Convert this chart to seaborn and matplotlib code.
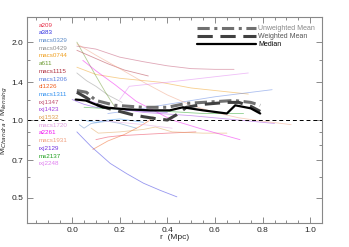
import numpy as np
import pandas as pd
import matplotlib
matplotlib.use("Agg")
from matplotlib import pyplot as plt
from matplotlib.lines import Line2D
from matplotlib.ticker import FixedLocator, NullFormatter
import seaborn as sns

# cluster names, label colours and profiles
clusters = ["a209", "a383", "macs0329", "macs0429", "macs0744", "a611", "macs1115",
            "macs1206", "cl1226", "macs1311", "rxj1347", "rxj1423", "rxj1532",
            "macs1720", "a2261", "macs1931", "rxj2129", "ms2137", "rxj2248"]
colors = ["#e8304a", "#3030e0", "#5a8ac8", "#909090", "#f0a020", "#6a9a30", "#b03040",
          "#5a80e0", "#f06020", "#3090f0", "#c05070", "#a040e0", "#e0a050",
          "#e0a0e0", "#f010f0", "#f0a080", "#7030e0", "#20a020", "#e080f0"]

profiles = {
    "a209": ([0.10, 0.15, 0.20, 0.30, 0.40, 0.52], [0.84, 0.86, 0.87, 0.88, 0.89, 0.90]),
    "a383": ([0.02, 0.08, 0.16, 0.23, 0.30, 0.37, 0.44], [0.90, 0.79, 0.68, 0.62, 0.57, 0.535, 0.505]),
    "macs0329": ([0.03, 0.05, 0.08, 0.15, 0.20, 0.27], [0.96, 0.93, 0.97, 0.99, 0.97, 0.93]),
    "macs0429": ([0.02, 0.06, 0.10, 0.15, 0.21], [1.52, 1.42, 1.35, 1.25, 1.17]),
    "macs0744": ([0.02, 0.10, 0.20, 0.37, 0.50, 0.74], [1.60, 1.50, 1.45, 1.40, 1.33, 1.26]),
    "a611": ([0.02, 0.06, 0.10, 0.14, 0.18], [2.00, 1.72, 1.48, 1.28, 1.12]),
    "macs1115": ([0.02, 0.08, 0.15, 0.22, 0.32], [1.86, 1.76, 1.65, 1.56, 1.48]),
    "macs1206": ([0.15, 0.25, 0.40, 0.60, 0.84], [1.06, 1.09, 1.15, 1.23, 1.31]),
    "cl1226": ([0.087, 0.15, 0.22, 0.28, 0.32, 0.34], [0.77, 0.83, 0.88, 0.94, 0.99, 1.03]),
    "macs1311": ([0.04, 0.10, 0.15, 0.20, 0.30], [1.00, 0.98, 1.00, 1.01, 0.98]),
    "rxj1347": ([0.02, 0.10, 0.20, 0.30, 0.40, 0.50, 0.60, 0.68], [1.93, 1.88, 1.75, 1.68, 1.62, 1.58, 1.57, 1.57]),
    "rxj1423": ([0.02, 0.08, 0.15, 0.30, 0.50, 0.70, 0.85], [1.28, 1.18, 1.12, 1.07, 1.04, 1.00, 0.97]),
    "rxj1532": ([0.08, 0.11, 0.20, 0.30, 0.35, 0.42, 0.55, 0.65], [0.93, 0.89, 0.90, 0.92, 0.94, 0.90, 0.89, 0.89]),
    "macs1720": ([0.10, 0.20, 0.30, 0.42], [1.00, 0.98, 0.96, 0.93]),
    "a2261": ([0.045, 0.10, 0.18, 0.27, 0.42, 0.55, 0.705], [1.70, 1.55, 1.37, 1.18, 1.00, 0.92, 0.84]),
    "macs1931": ([0.02, 0.10, 0.20, 0.30, 0.40, 0.50, 0.60, 0.70, 0.80, 0.92], [1.97, 1.78, 1.58, 1.40, 1.25, 1.14, 1.07, 1.02, 0.99, 0.96]),
    "rxj2129": ([0.00, 0.05, 0.10, 0.20, 0.30, 0.40], [1.20, 1.15, 1.12, 1.10, 1.08, 1.07]),
    "ms2137": ([0.05, 0.20, 0.40, 0.55, 0.72], [1.12, 1.10, 1.08, 1.06, 1.06]),
    "rxj2248": ([0.20, 0.24, 0.40, 0.60, 0.74], [1.20, 1.35, 1.40, 1.47, 1.52]),
}

median_r = [0.015, 0.057, 0.128, 0.23, 0.33, 0.41, 0.465, 0.55, 0.65, 0.685, 0.75, 0.79]
median_m = [1.20, 1.19, 1.12, 1.10, 1.09, 1.09, 1.12, 1.09, 1.06, 1.14, 1.11, 1.06]
unw_r = [0.02, 0.06, 0.10, 0.18, 0.30, 0.40, 0.48, 0.55, 0.68, 0.75, 0.79]
unw_m = [1.30, 1.28, 1.19, 1.14, 1.12, 1.12, 1.16, 1.17, 1.19, 1.17, 1.14]
wtd_r = [0.02, 0.06, 0.10, 0.15, 0.20, 0.25, 0.30, 0.36, 0.40, 0.44, 0.48, 0.55, 0.65, 0.70, 0.75, 0.79]
wtd_m = [1.28, 1.22, 1.15, 1.11, 1.08, 1.05, 1.03, 1.01, 1.00, 1.05, 1.12, 1.15, 1.17, 1.17, 1.13, 1.08]

rows = []
for name in clusters:
    rr, mm = profiles[name]
    for r, m in zip(rr, mm):
        rows.append({"cluster": name, "r": r, "ratio": m})
df = pd.DataFrame(rows)

sns.set_style("ticks")
plt.rcParams["font.family"] = ["Liberation Sans", "DejaVu Sans"]

fig = plt.figure(figsize=(3.49, 2.47), dpi=100)
ax = fig.add_axes([0.077, 0.097, 0.846, 0.834])

sns.lineplot(data=df, x="r", y="ratio", hue="cluster", palette=dict(zip(clusters, colors)),
             units="cluster", estimator=None, sort=False, lw=0.6, alpha=0.5,
             legend=False, ax=ax)

ax.axhline(1.0, color="black", lw=0.7, dashes=(4, 3))

sns.lineplot(x=unw_r, y=unw_m, ax=ax, color="#707070", lw=2.2)
ax.lines[-1].set_dashes((4, 1.5, 1, 1.5))
sns.lineplot(x=wtd_r, y=wtd_m, ax=ax, color="#404040", lw=2.2)
ax.lines[-1].set_dashes((5, 2.5))
sns.lineplot(x=median_r, y=median_m, ax=ax, color="black", lw=1.6)

ax.set_yscale("log")
ax.set_xlim(-0.19, 1.05)
ax.set_ylim(0.4, 2.5)
ax.yaxis.set_major_locator(FixedLocator([0.5, 0.7, 1.0, 1.4, 2.0]))
ax.yaxis.set_minor_locator(FixedLocator([0.6, 0.8, 0.9, 1.2, 1.7]))
ax.yaxis.set_minor_formatter(NullFormatter())
ax.set_yticklabels(["0.5", "0.7", "1.0", "1.4", "2.0"])
ax.set_xticks([0.0, 0.2, 0.4, 0.6, 0.8, 1.0])
ax.set_xticks(np.arange(-0.15, 1.05, 0.05), minor=True)
ax.tick_params(which="both", direction="in", top=True, right=True, labelsize=6,
               color="#777777", width=0.6, pad=2.5)
ax.tick_params(which="major", length=4)
ax.tick_params(which="minor", length=2)
for s in ax.spines.values():
    s.set_color("#888888")
    s.set_linewidth(0.8)

ax.set_xlabel("r  (Mpc)", fontsize=6, labelpad=0)
ax.set_ylabel(r"M$_{Chandra}$ / M$_{lensing}$", fontsize=6, labelpad=1)

for i, (name, c) in enumerate(zip(clusters, colors)):
    ax.text(0.04, 0.961 - i * 0.0374, name, color=c, fontsize=4.5,
            transform=ax.transAxes, va="center", ha="left")

handles = [Line2D([], [], color="#707070", lw=2.2, dashes=(4, 1.5, 1, 1.5)),
           Line2D([], [], color="#404040", lw=2.2, dashes=(5, 2.5)),
           Line2D([], [], color="black", lw=1.6)]
leg = ax.legend(handles, ["Unweighted Mean", "Weighted Mean", "Median"], loc="upper right",
                bbox_to_anchor=(0.985, 0.975), frameon=False, fontsize=5, handlelength=8.5,
                labelspacing=0.15, handletextpad=0.3, borderaxespad=0)
for t, c in zip(leg.get_texts(), ["#888888", "#555555", "black"]):
    t.set_color(c)

fig.savefig("out.png", dpi=100)
